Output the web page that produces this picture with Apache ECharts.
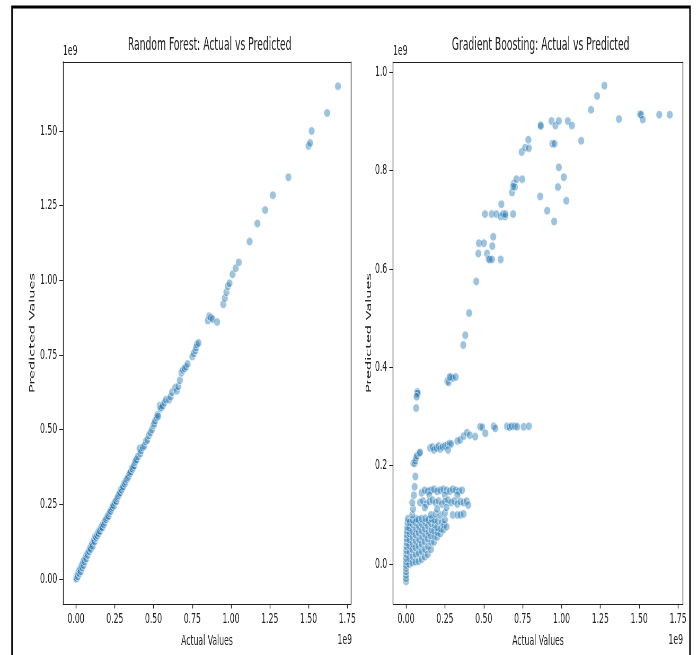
<!DOCTYPE html>
<html><head><meta charset="utf-8">
<script src="https://cdn.jsdelivr.net/npm/echarts@6/dist/echarts.min.js"></script>
<style>
html,body{margin:0;padding:0;background:#fff;overflow:hidden}
#wrap{width:698px;height:655px;overflow:hidden;position:relative}
#c{width:1317px;height:655px;transform:scaleX(0.53);transform-origin:0 0;position:absolute;left:0;top:0}
</style>
</head><body><div id="wrap"><div id="c"></div></div>
<script>
// Values in units of 1e9
const rfTitle = 'Random Forest: Actual vs Predicted';
const gbTitle = 'Gradient Boosting: Actual vs Predicted';
const xLabel = 'Actual Values';
const yLabel = 'Predicted Values';
const offsetText = '1e9';

const rfPoints = [
[0,0],[0.003,0.005],[0.005,0.002],[0.008,0.01],[0.01,0.015],[0.012,0.008],[0.015,0.02],[0.018,0.022],[0.02,0.028],[0.022,0.018],
[0.025,0.03],[0.028,0.035],[0.03,0.025],[0.033,0.04],[0.036,0.045],[0.04,0.038],[0.042,0.05],[0.045,0.055],[0.048,0.046],[0.05,0.06],
[0.053,0.065],[0.056,0.058],[0.06,0.07],[0.063,0.075],[0.066,0.068],[0.07,0.08],[0.073,0.085],[0.076,0.08],[0.08,0.09],[0.083,0.095],
[0.086,0.092],[0.09,0.1],[0.093,0.105],[0.096,0.1],[0.1,0.112],[0.104,0.118],[0.108,0.11],[0.112,0.124],[0.116,0.13],[0.12,0.125],
[0.123,0.142],[0.127,0.136],[0.13,0.14],[0.134,0.148],[0.138,0.145],[0.142,0.155],[0.146,0.152],[0.15,0.162],[0.155,0.16],[0.16,0.17],
[0.165,0.175],[0.17,0.172],[0.175,0.185],[0.18,0.182],[0.185,0.19],[0.19,0.198],[0.195,0.2],[0.2,0.205],[0.205,0.212],[0.21,0.21],
[0.215,0.22],[0.22,0.225],[0.225,0.228],[0.23,0.235],[0.235,0.24],[0.24,0.248],[0.245,0.245],[0.25,0.255],[0.255,0.262],[0.26,0.26],
[0.265,0.27],[0.27,0.275],[0.275,0.28],[0.28,0.285],[0.285,0.29],[0.29,0.3],[0.295,0.298],[0.3,0.305],[0.305,0.31],[0.31,0.32],
[0.315,0.318],[0.32,0.325],[0.325,0.332],[0.33,0.335],[0.335,0.34],[0.34,0.345],[0.345,0.352],[0.35,0.355],[0.355,0.36],[0.36,0.37],
[0.365,0.368],[0.37,0.375],[0.375,0.38],[0.38,0.39],[0.385,0.395],[0.39,0.4],[0.4,0.41],[0.41,0.437],[0.415,0.42],[0.42,0.43],
[0.43,0.44],[0.44,0.445],[0.45,0.46],[0.46,0.465],[0.47,0.48],[0.48,0.49],[0.49,0.5],[0.5,0.515],[0.505,0.52],[0.51,0.53],
[0.52,0.54],[0.525,0.55],[0.53,0.545],[0.54,0.58],[0.545,0.57],[0.55,0.575],[0.56,0.58],[0.57,0.59],[0.58,0.6],[0.6,0.6],
[0.61,0.61],[0.62,0.625],[0.64,0.64],[0.65,0.63],[0.66,0.645],[0.67,0.665],[0.68,0.69],[0.69,0.7],[0.7,0.705],[0.71,0.71],
[0.72,0.72],[0.75,0.745],[0.76,0.755],[0.77,0.765],[0.775,0.775],[0.78,0.785],[0.79,0.79],
[0.85,0.865],[0.86,0.88],[0.87,0.875],[0.88,0.87],[0.91,0.86],
[0.95,0.92],[0.96,0.94],[0.97,0.96],[0.98,0.98],[0.99,0.99],[1.01,1.02],[1.03,1.04],[1.05,1.06],
[1.12,1.13],[1.17,1.19],[1.22,1.235],[1.27,1.285],[1.37,1.345],[1.50,1.45],[1.51,1.46],[1.52,1.50],[1.62,1.56],[1.69,1.65]
];

const gbPoints = [
[0,-0.035],[0,-0.029],[0,-0.022],[0,-0.015],[0,-0.008],[0,-0.002],[0.001,0.005],[0.001,0.012],[0.002,0.02],[0.002,0.028],
[0.003,0.036],[0.004,0.044],[0.004,0.052],[0.005,0.06],[0.006,0.068],[0.008,0.075],[0.01,0.085],[0.012,0.092],
[0.02,0.0],[0.02,0.012],[0.022,0.025],[0.02,0.038],[0.021,0.05],[0.023,0.062],[0.02,0.074],[0.024,0.085],
[0.04,0.003],[0.042,0.016],[0.04,0.03],[0.043,0.042],[0.041,0.055],[0.04,0.067],[0.044,0.08],[0.042,0.09],
[0.06,0.005],[0.062,0.02],[0.06,0.034],[0.063,0.047],[0.061,0.06],[0.064,0.072],[0.06,0.085],[0.066,0.092],
[0.08,0.006],[0.082,0.022],[0.08,0.037],[0.084,0.05],[0.081,0.064],[0.083,0.077],[0.08,0.09],
[0.1,0.01],[0.102,0.026],[0.1,0.041],[0.104,0.055],[0.101,0.068],[0.103,0.081],[0.1,0.092],
[0.12,0.015],[0.122,0.03],[0.12,0.046],[0.124,0.06],[0.121,0.072],[0.123,0.085],[0.125,0.093],
[0.14,0.02],[0.142,0.036],[0.14,0.052],[0.144,0.065],[0.141,0.078],[0.143,0.09],
[0.16,0.03],[0.162,0.045],[0.16,0.058],[0.164,0.07],[0.161,0.083],[0.165,0.092],
[0.18,0.045],[0.182,0.057],[0.18,0.068],[0.184,0.08],[0.181,0.09],
[0.2,0.055],[0.202,0.065],[0.2,0.075],[0.204,0.088],
[0.22,0.062],[0.225,0.072],[0.23,0.085],[0.24,0.07],[0.245,0.08],[0.26,0.076],[0.25,0.09],
[0.16,0.1],[0.19,0.102],[0.22,0.1],[0.25,0.104],[0.3,0.1],[0.33,0.1],[0.35,0.1],[0.37,0.102],
[0.04,0.1],[0.045,0.112],[0.04,0.125],[0.05,0.14],[0.055,0.157],[0.06,0.178],[0.047,0.205],[0.055,0.205],
[0.06,0.21],[0.065,0.216],[0.07,0.22],[0.085,0.225],[0.09,0.227],
[0.1,0.145],[0.12,0.15],[0.14,0.148],[0.16,0.15],[0.18,0.152],[0.2,0.148],[0.22,0.15],[0.24,0.152],[0.26,0.15],
[0.28,0.148],[0.3,0.152],[0.32,0.15],[0.34,0.148],[0.36,0.15],[0.15,0.14],[0.25,0.14],[0.33,0.14],
[0.09,0.125],[0.11,0.128],[0.13,0.122],[0.15,0.127],[0.17,0.13],[0.19,0.125],[0.21,0.128],[0.23,0.122],[0.25,0.127],
[0.27,0.13],[0.29,0.125],[0.31,0.128],[0.33,0.122],[0.35,0.127],[0.37,0.125],[0.39,0.128],[0.4,0.12],[0.12,0.115],[0.2,0.112],[0.26,0.115],
[0.155,0.236],[0.17,0.238],[0.18,0.232],[0.195,0.236],[0.21,0.24],[0.22,0.234],[0.235,0.238],[0.25,0.24],[0.265,0.242],
[0.28,0.245],[0.29,0.244],[0.27,0.232],
[0.33,0.25],[0.348,0.252],[0.37,0.26],[0.392,0.267],[0.41,0.262],[0.445,0.259],[0.477,0.279],[0.49,0.278],[0.51,0.266],
[0.564,0.28],[0.574,0.276],[0.65,0.28],[0.665,0.278],[0.68,0.28],[0.70,0.28],[0.715,0.279],[0.757,0.279],[0.79,0.28],
[0.065,0.317],[0.07,0.345],[0.072,0.35],[0.075,0.347],[0.068,0.34],
[0.265,0.372],[0.273,0.369],[0.29,0.38],[0.30,0.378],[0.32,0.38],[0.28,0.38],
[0.368,0.445],[0.381,0.465],[0.406,0.51],[0.452,0.574],
[0.465,0.631],[0.521,0.631],[0.531,0.62],[0.538,0.619],[0.553,0.619],[0.609,0.619],
[0.469,0.652],[0.501,0.652],[0.555,0.646],[0.561,0.665],
[0.508,0.711],[0.551,0.711],[0.581,0.711],[0.609,0.706],[0.624,0.711],[0.637,0.706],[0.639,0.711],[0.689,0.711],
[0.613,0.731],[0.682,0.755],[0.693,0.773],[0.70,0.766],[0.689,0.767],[0.71,0.782],[0.747,0.782],
[0.744,0.837],[0.766,0.846],[0.79,0.845],[0.787,0.862],
[0.863,0.747],[0.908,0.718],[0.953,0.696],[0.983,0.806],[1.015,0.786],[0.977,0.766],[1.031,0.738],
[0.942,0.854],[0.955,0.854],[0.865,0.892],[0.867,0.890],[0.936,0.90],[0.961,0.891],[0.983,0.90],[1.041,0.90],[1.067,0.891],[1.127,0.860],
[1.19,0.923],[1.229,0.951],[1.276,0.972],[1.37,0.904],[1.506,0.914],[1.512,0.913],[1.523,0.903],[1.629,0.913],[1.697,0.913]
];

const rfXTicks = 0.25, rfYTicks = 0.25, gbXTicks = 0.25, gbYTicks = 0.2;

// The chart is drawn on a wider canvas and squeezed horizontally (like the reference image).
const S = 0.53;
const X = px => px / S;

const FONT = "'DejaVu Sans',sans-serif";
const ink = '#222';

function fmt(step, dec) {
  return v => Math.abs(v / step - Math.round(v / step)) < 1e-6 ? v.toFixed(dec) : '';
}
function xAx(grid, min, max, step, dec) {
  return [{
    gridIndex: grid, type: 'value', position: 'bottom', min, max, minInterval: step, maxInterval: step,
    name: xLabel, nameLocation: 'middle', nameGap: 30,
    nameTextStyle: {fontFamily: FONT, fontSize: 14.5, color: ink},
    axisLine: {show: true, onZero: false, lineStyle: {color: ink, width: 1}},
    axisTick: {show: true, length: 4.5, lineStyle: {color: ink, width: 1.4}},
    axisLabel: {formatter: fmt(step, dec), fontFamily: FONT, fontSize: 14.5, color: ink, margin: 8, showMinLabel: false, showMaxLabel: false},
    splitLine: {show: false}
  }, {
    gridIndex: grid, type: 'value', position: 'top', min, max,
    axisLine: {show: true, onZero: false, lineStyle: {color: ink, width: 1}},
    axisTick: {show: false}, axisLabel: {show: false}, splitLine: {show: false}
  }];
}
function yAx(grid, min, max, step, dec, gap) {
  return [{
    gridIndex: grid, type: 'value', position: 'left', min, max, minInterval: step, maxInterval: step,
    name: yLabel, nameLocation: 'middle', nameGap: gap, nameRotate: 90,
    nameTextStyle: {fontFamily: FONT, fontSize: 14.5, color: ink},
    axisLine: {show: true, onZero: false, lineStyle: {color: ink, width: 1.3}},
    axisTick: {show: true, length: 7, lineStyle: {color: ink}},
    axisLabel: {formatter: fmt(step, dec), fontFamily: FONT, fontSize: 14.5, color: ink, margin: 11, showMinLabel: false, showMaxLabel: false},
    splitLine: {show: false}
  }, {
    gridIndex: grid, type: 'value', position: 'right', min, max,
    axisLine: {show: true, onZero: false, lineStyle: {color: ink, width: 1.3}},
    axisTick: {show: false}, axisLabel: {show: false}, splitLine: {show: false}
  }];
}

const chart = echarts.init(document.getElementById('c'), null, {renderer: 'canvas', width: 1317, height: 655});
const pointStyle = {color: 'rgba(31,119,180,0.55)', borderColor: '#fff', borderWidth: 0.8};
const ellipse = 'path://M0,1A1,1,0,1,1,2,1A1,1,0,1,1,0,1Z';
const txt = (x, y, t, align) => ({type: 'text', x: x, y: y, style: {text: t, fontFamily: FONT, fontSize: 14.5, fill: ink, align: align || 'left', verticalAlign: 'middle'}});

chart.setOption({
  animation: false,
  backgroundColor: '#fff',
  title: [
    {text: rfTitle, left: X(207), top: 32, textAlign: 'center', textStyle: {fontFamily: FONT, fontSize: 17.4, fontWeight: 'normal', color: ink}},
    {text: gbTitle, left: X(538), top: 32, textAlign: 'center', textStyle: {fontFamily: FONT, fontSize: 17.4, fontWeight: 'normal', color: ink}}
  ],
  grid: [
    {left: X(63), top: 62, width: X(288), height: 542},
    {left: X(393), top: 62, width: X(290), height: 542}
  ],
  xAxis: [...xAx(0, -0.084, 1.774, rfXTicks, 2), ...xAx(1, -0.084, 1.782, gbXTicks, 2)],
  yAxis: [...yAx(0, -0.084, 1.731, rfYTicks, 2, 50), ...yAx(1, -0.081, 1.020, gbYTicks, 1, 37)],
  series: [
    {type: 'scatter', xAxisIndex: 0, yAxisIndex: 0, data: rfPoints, symbol: ellipse, symbolSize: [12, 8.5], itemStyle: pointStyle},
    {type: 'scatter', xAxisIndex: 2, yAxisIndex: 2, data: gbPoints, symbol: ellipse, symbolSize: [12, 8.5], itemStyle: pointStyle}
  ],
  graphic: [
    {type: 'rect', x: X(12), y: 7, shape: {x: 0, y: 0, width: X(678), height: 660}, style: {fill: 'none', stroke: '#000', lineWidth: 2.8}, z: 10},
    txt(X(63), 51, offsetText), txt(X(393), 51, offsetText),
    txt(X(352), 640, offsetText, 'right'), txt(X(683), 640, offsetText, 'right')
  ]
});
</script></body></html>
